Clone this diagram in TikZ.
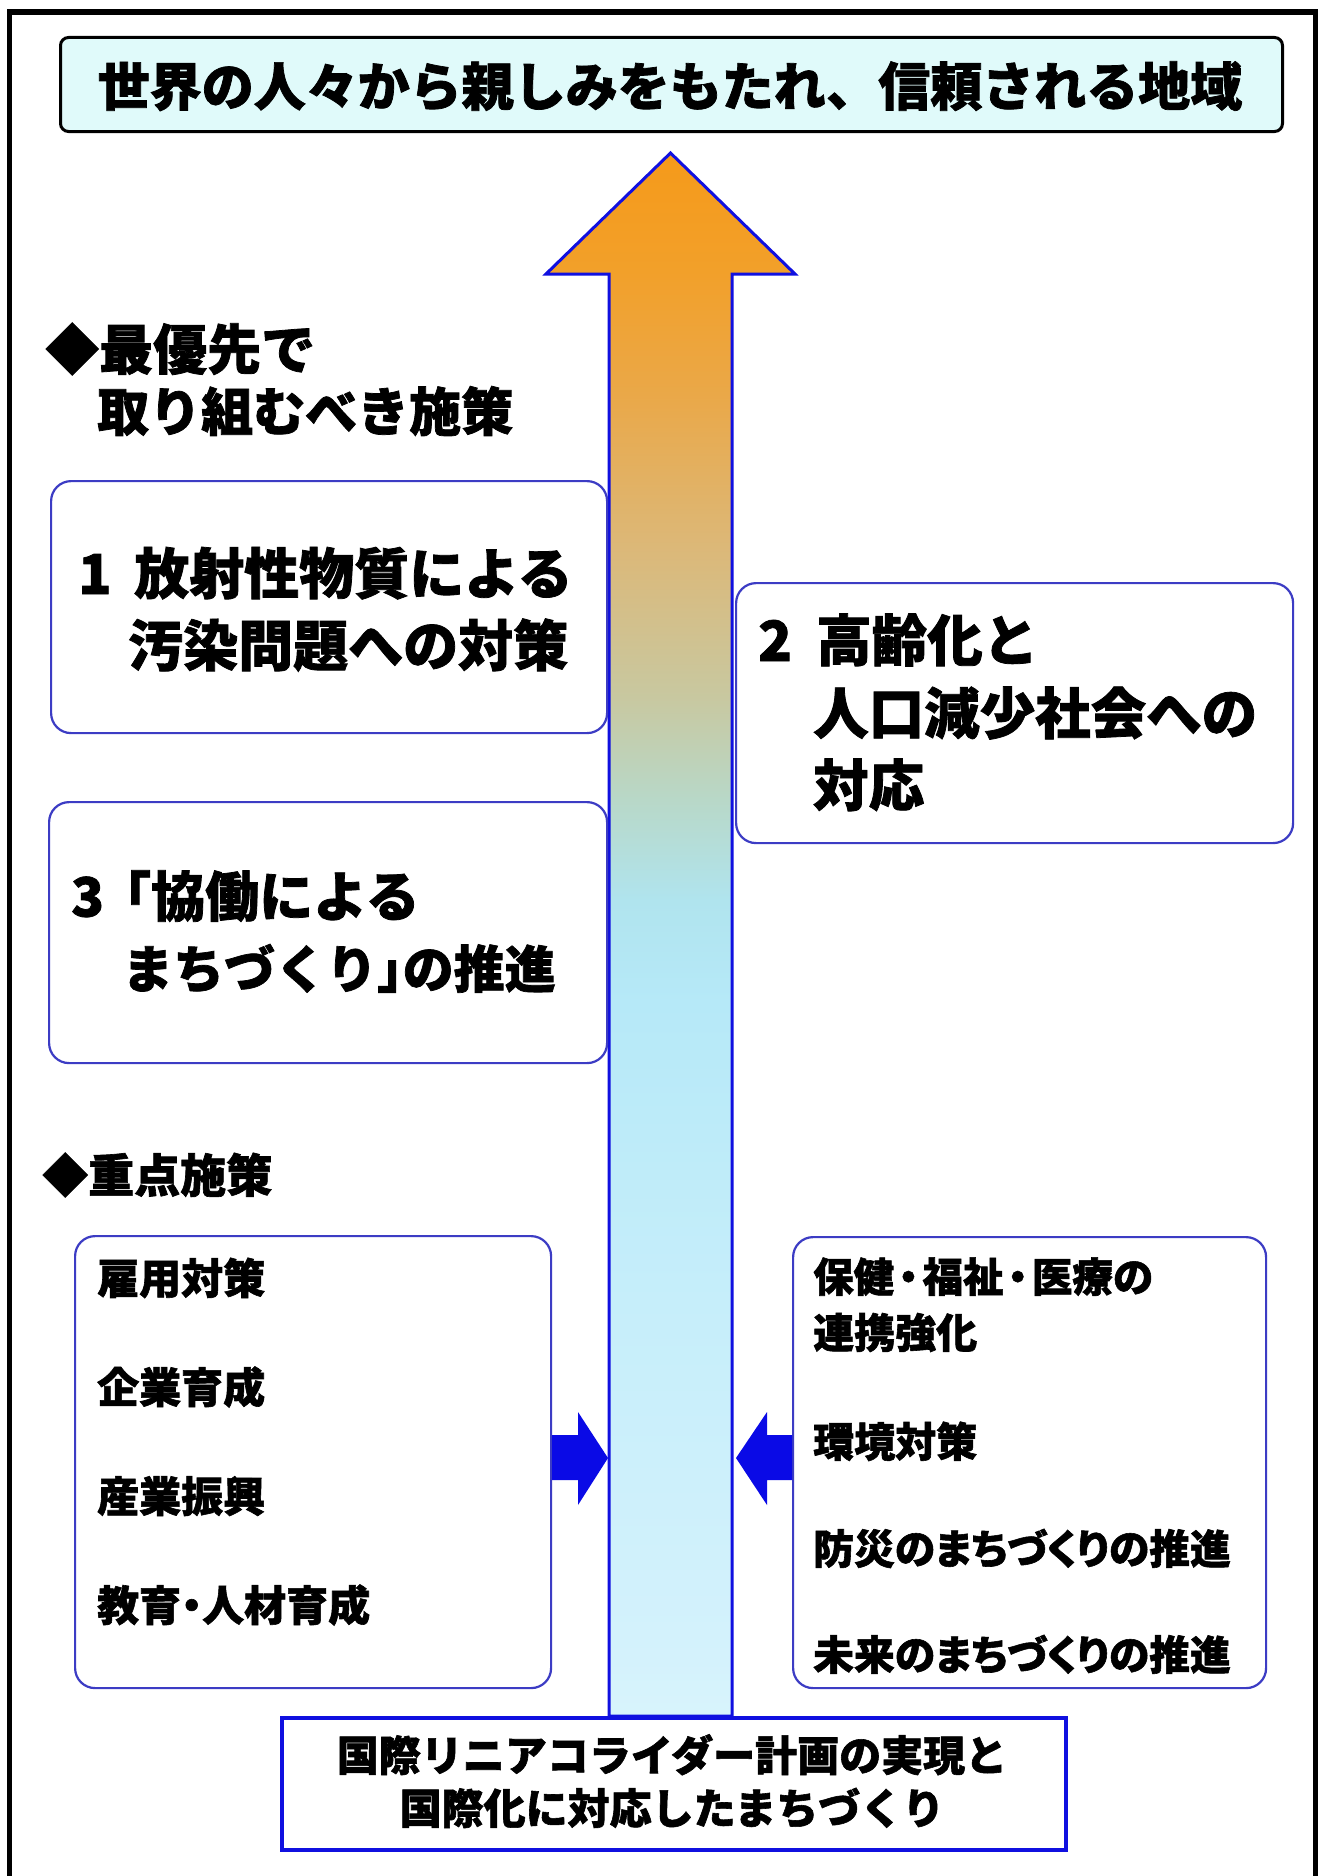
\documentclass[tikz,border=0pt]{standalone}
\usepackage{fontspec}
\setmainfont{Noto Sans CJK JP}[BoldFeatures={FakeBold=1.4}]
\newfontfamily\jpp{Noto Sans CJK JP}[RawFeature=+palt, BoldFeatures={FakeBold=1.4}]
\usetikzlibrary{calc}
\definecolor{titlefill}{HTML}{E0FAFA}
\definecolor{boxblue}{HTML}{3C3CC4}
\definecolor{deepblue}{HTML}{1010E0}
\definecolor{arrowblue}{HTML}{0A0AE6}
\definecolor{ga}{HTML}{D8F4FC}
\definecolor{gb}{HTML}{D4F2FC}
\definecolor{gc}{HTML}{C6EEFA}
\definecolor{gd}{HTML}{B6E9F8}
\definecolor{ge}{HTML}{B0E4EE}
\definecolor{gf}{HTML}{B8D8C8}
\definecolor{gg}{HTML}{C8C8A0}
\definecolor{gh}{HTML}{DCB878}
\definecolor{gi}{HTML}{EAA848}
\definecolor{gj}{HTML}{F2A02A}
\definecolor{gk}{HTML}{F59A1A}
\pgfdeclareverticalshading{arrowgrad}{100bp}{color(0bp)=(ga); color(25bp)=(ga); color(26.8bp)=(gb); color(38.3bp)=(gc); color(47.8bp)=(gd); color(51.1bp)=(ge); color(54.3bp)=(gf); color(57.6bp)=(gg); color(62.4bp)=(gh); color(67.3bp)=(gi); color(71.2bp)=(gj); color(75bp)=(gk); color(100bp)=(gk)}
\begin{document}
\begin{tikzpicture}[x=1pt,y=-1pt,
  rbox/.style={draw=boxblue, line width=2.2pt, rounded corners=20pt, fill=white, inner sep=0pt, anchor=north west},
  txt/.style={inner sep=0pt, anchor=base west},
  ctxt/.style={inner sep=0pt, anchor=base},
  fs/.style={font=\bfseries\fontsize{#1pt}{#1pt}\selectfont},
  fsp/.style={font=\jpp\bfseries\fontsize{#1pt}{#1pt}\selectfont}]
\useasboundingbox (0,0) rectangle (1321,1876);
\fill[white] (0,0) rectangle (1321,1876);
% frame
\draw[line width=5.5pt, line join=miter] (9.5,1890) -- (9.5,12) -- (1315.5,12) -- (1315.5,1890);
% title
\node[draw=black, line width=3pt, fill=titlefill, rounded corners=8pt, minimum width=1222pt, minimum height=94pt, inner sep=0pt, anchor=north west] (title) at (59,36) {};
\node[ctxt, fs=52] (titletext) at (670,105.8) {世界の人々から親しみをもたれ、信頼される地域};
% big arrow
\coordinate (tip) at (670.5,153);
\path[shading=arrowgrad, draw=deepblue, line width=3pt, line join=miter]
  (609,1716) -- (609,274) -- (546,274) -- (tip) -- (795,274) -- (732,274) -- (732,1716) -- cycle;
% headings
\node[txt, fs=54] (h1a) at (45,369.5) {◆最優先で};
\node[txt, fs=52] (h1b) at (97,431) {取り組むべき施策};
\node[txt, fs=46] (h2) at (42,1192.5) {◆重点施策};
% box 1
\node[rbox, minimum width=556pt, minimum height=252pt] (b1) at (50,480) {};
\node[txt, fs=55] (b1n) at (78,594) {1};
\node[txt, fs=55] (b1a) at (134,594) {放射性物質による};
\node[txt, fs=55] (b1b) at (128,666) {汚染問題への対策};
% box 2
\node[rbox, minimum width=557pt, minimum height=260pt] (b2) at (735,582) {};
\node[txt, fs=55.5] (b2n) at (758,661) {2};
\node[txt, fs=55.5] (b2a) at (816,661) {高齢化と};
\node[txt, fs=55.5] (b2b) at (813,734) {人口減少社会への};
\node[txt, fs=55.5] (b2c) at (813,806) {対応};
% box 3
\node[rbox, minimum width=558pt, minimum height=261pt] (b3) at (48,801) {};
\node[txt, fs=54] (b3n) at (71,916.5) {3};
\node[txt, fs=54] (b3a) at (97,916.5) {「協働による};
\node[txt, fs=51] (b3b) at (122,988) {まちづくり」\hspace{-0.5em}の推進};
% lower left box
\node[rbox, minimum width=476pt, minimum height=452pt] (ll) at (74,1235) {};
\node[txt, fsp=42] (l1) at (97,1294) {雇用対策};
\node[txt, fsp=42] (l2) at (97,1403) {企業育成};
\node[txt, fsp=42] (l3) at (97,1512) {産業振興};
\node[txt, fsp=42] (l4) at (97,1621) {教育・人材育成};
% lower right box
\node[rbox, minimum width=473pt, minimum height=451pt] (lr) at (792,1236) {};
\node[txt, fs=40.5] (r1) at (813,1292) {保健\hspace{-0.15em}・\hspace{-0.15em}福祉\hspace{-0.15em}・\hspace{-0.15em}医療の};
\node[txt, fsp=41] (r2) at (813,1348) {連携強化};
\node[txt, fsp=41] (r3) at (813,1457) {環境対策};
\node[txt, fsp=40.8] (r4) at (813,1564) {防災のまちづくりの推進};
\node[txt, fsp=40.8] (r5) at (813,1670) {未来のまちづくりの推進};
% small block arrows
\fill[arrowblue] (ll.east |- 0,1435) -- (578,1435) -- (578,1412) -- (608,1458) -- (578,1505) -- (578,1480) -- (ll.east |- 0,1480) -- cycle;
\fill[arrowblue] (lr.west |- 0,1435) -- (767,1435) -- (767,1412) -- (736,1458) -- (767,1505) -- (767,1480) -- (lr.west |- 0,1480) -- cycle;
% bottom box
\node[draw=deepblue, line width=4pt, fill=white, minimum width=784pt, minimum height=132pt, inner sep=0pt, anchor=north west] (base) at (280,1716) {};
\node[ctxt, fs=42] (basea) at (672,1771) {国際リニアコライダー計画の実現と};
\node[ctxt, fs=42] (baseb) at (672,1824) {国際化に対応したまちづくり};
\end{tikzpicture}
\end{document}
